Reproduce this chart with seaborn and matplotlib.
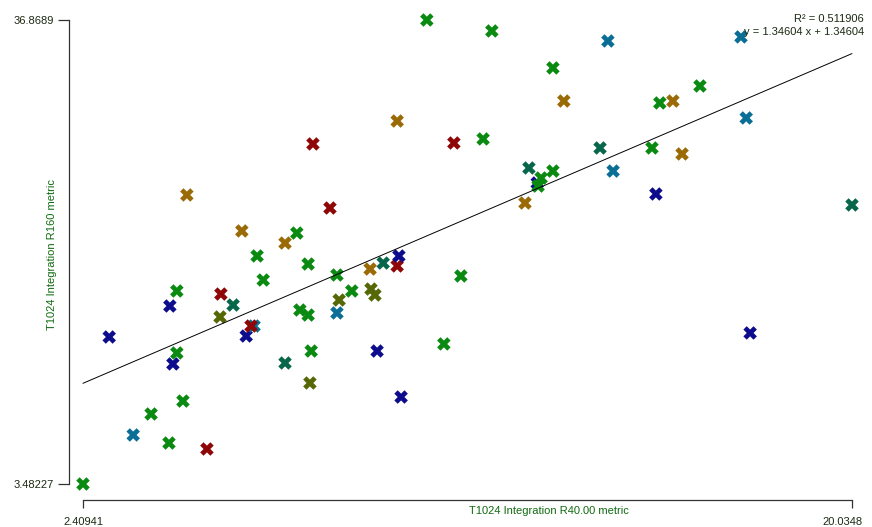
import matplotlib
matplotlib.use("Agg")
import matplotlib.pyplot as plt
import matplotlib.transforms as mtransforms
import numpy as np
import pandas as pd
import seaborn as sns

# values
x_vals = [10.29, 11.78, 14.44, 17.49, 13.18, 16.55, 13.43, 15.63, 15.93, 9.61,
          17.61, 7.68, 10.91, 11.58, 14.26, 15.45, 16.14, 12.63, 13.18, 12.91,
          12.84, 12.82, 14.56, 4.79, 15.54, 12.54, 8.07, 20.0348, 6.05, 7.31,
          7.04, 6.40, 9.65, 9.29, 9.61, 8.99, 7.57, 11.07, 8.23, 6.54,
          4.56, 8.57, 5.57, 9.01, 9.10, 4.40, 8.28, 5.85, 7.38, 7.57,
          8.23, 5.55, 6.26, 6.33, 6.15, 3.01, 10.68, 9.15, 4.56, 7.64,
          4.47, 7.04, 17.70, 7.61, 4.70, 9.70, 3.97, 3.56, 4.38, 5.25,
          2.40941]
y_vals = [36.8689, 36.08, 35.36, 35.65, 33.42, 32.12, 31.04, 30.90, 31.04, 29.60,
          29.82, 27.95, 28.02, 28.31, 27.66, 27.66, 27.23, 26.22, 26.00, 25.50,
          24.92, 25.14, 26.00, 24.28, 24.35, 23.70, 23.34, 23.56, 21.69, 21.54,
          20.82, 19.89, 19.89, 19.38, 19.17, 18.95, 19.31, 18.45, 18.52, 18.16,
          17.37, 17.37, 17.15, 17.51, 17.08, 16.29, 16.72, 16.36, 16.00, 15.64,
          15.79, 15.50, 14.85, 14.85, 14.13, 14.06, 13.56, 13.05, 12.91, 13.05,
          12.12, 12.19, 14.35, 10.75, 9.45, 9.74, 8.52, 7.01, 6.43, 6.00,
          3.48227]
groups = ["green", "green", "teal", "teal", "green", "green", "ochre", "green", "ochre", "ochre",
          "teal", "red", "red", "green", "darkteal", "green", "ochre", "darkteal", "green", "green",
          "green", "navy", "teal", "ochre", "navy", "ochre", "red", "darkteal", "ochre", "green",
          "ochre", "green", "navy", "darkteal", "red", "ochre", "green", "green", "green", "green",
          "green", "green", "red", "olive", "olive", "navy", "olive", "darkteal", "green", "green",
          "teal", "olive", "red", "teal", "navy", "navy", "green", "navy", "green", "green",
          "navy", "darkteal", "navy", "olive", "green", "navy", "green", "teal", "green", "red",
          "green"]

x_ticks = [2.40941, 20.0348]
x_ticklabels = ["2.40941", "20.0348"]
y_ticks = [3.48227, 36.8689]
y_ticklabels = ["3.48227", "36.8689"]

fit_slope = 1.34604
fit_intercept = 7.485
r2_text = "R\u00b2 = 0.511906"
eq_text = "y = 1.34604 x + 1.34604"

palette = {"green": "#0b8a12", "teal": "#0a6e96", "navy": "#0c0c8c",
           "red": "#8e0606", "ochre": "#9a6a06", "olive": "#566806",
           "darkteal": "#08664a"}

df = pd.DataFrame({"x": x_vals, "y": y_vals, "group": groups})
# draw order: plot top of the list last so the corner point sits on top
df = df.iloc[::-1]

sns.set_style("white")
plt.rcParams["font.family"] = ["Liberation Sans", "DejaVu Sans"]

W, H = 872, 527
fig = plt.figure(figsize=(W / 100, H / 100), dpi=100)
ax = fig.add_axes([83 / W, 1 - 484 / H, (852 - 83) / W, (484 - 20) / H])

sns.scatterplot(data=df, x="x", y="y", hue="group", palette=palette,
                marker="X", s=95, linewidth=0, legend=False, ax=ax, clip_on=False)

# regression line across the data range
xl = np.array([min(x_vals), max(x_vals)])
ax.plot(xl, fit_slope * xl + fit_intercept, color="black", lw=0.7, clip_on=False, zorder=1)

ax.set_xlim(min(x_vals), max(x_vals))
ax.set_ylim(min(y_vals), max(y_vals))

for side in ["top", "right"]:
    ax.spines[side].set_visible(False)
ax.spines["left"].set_position(("outward", 10))
ax.spines["bottom"].set_position(("outward", 11.5))
for side in ["left", "bottom"]:
    ax.spines[side].set_color("#333333")
    ax.spines[side].set_linewidth(0.9)

ax.set_xticks(x_ticks)
ax.set_xticklabels(x_ticklabels)
ax.set_yticks(y_ticks)
ax.set_yticklabels(y_ticklabels)
ax.tick_params(axis="x", direction="out", length=6, width=0.9, color="#333333",
               labelsize=8, labelcolor="#1b2a12", pad=6, bottom=True)
ax.tick_params(axis="y", direction="out", length=8, width=0.9, color="#333333",
               labelsize=8, labelcolor="#1b2a12", pad=3, left=True)
# keep the right tick label inside the figure
lab = ax.get_xticklabels()[-1]
lab.set_transform(lab.get_transform() + mtransforms.ScaledTranslation(-7 / 72, 0, fig.dpi_scale_trans))

ax.set_xlabel("T1024 Integration R40.00 metric", fontsize=8, color="#106a10")
ax.xaxis.set_label_coords((549 - 83) / (852 - 83), -27 / 464)
ax.xaxis.label.set_va("center")
ax.set_ylabel("T1024 Integration R160 metric", fontsize=8, color="#106a10")
ax.yaxis.set_label_coords(-(83 - 52) / (852 - 83), (484 - 255) / 464)
ax.yaxis.label.set_va("center")

fig.text(864 / W, 1 - 19 / H, r2_text, ha="right", va="center", fontsize=8, color="#1b2a12")
fig.text(864 / W, 1 - 32 / H, eq_text, ha="right", va="center", fontsize=8, color="#1b2a12")

fig.savefig("out.png", dpi=100)
